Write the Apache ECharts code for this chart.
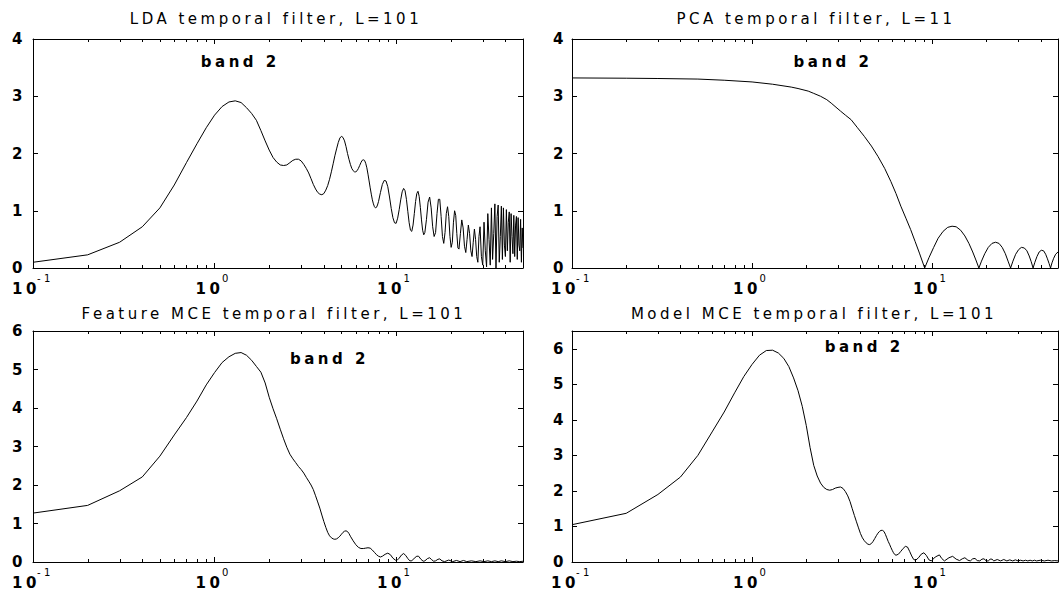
<!DOCTYPE html>
<html>
<head>
<meta charset="utf-8">
<script src="https://cdn.jsdelivr.net/npm/echarts@6/dist/echarts.min.js"></script>
<style>
html,body{margin:0;padding:0;background:#fff;}
#main{width:1061px;height:591px;}
#main text{letter-spacing:3.5px;}
</style>
</head>
<body>
<div id="main"></div>
<script>
// ---------- data ----------
const TITLES = ['LDA temporal filter, L=101', 'PCA temporal filter, L=11',
                'Feature MCE temporal filter, L=101', 'Model MCE temporal filter, L=101'];
const ANNOT_TEXT = 'band 2';
const ANNOT_POS = [[0.84, 3.6], [1.7, 3.6], [2.6, 5.28], [2.53, 6.05]];
const X_MIN = 0.1, X_MAX = 50;
const Y_MAX = [4, 4, 6, 6.5];
const MINOR_TICKS = [0.2,0.3,0.4,0.5,0.6,0.7,0.8,0.9,2,3,4,5,6,7,8,9,20,30,40];

const ldaData = [
[0.1,0.10],[0.2,0.23],[0.3,0.45],[0.4,0.72],[0.5,1.05],[0.6,1.45],[0.7,1.84],[0.8,2.17],[0.9,2.45],[1.0,2.67],
[1.1,2.82],[1.2,2.90],[1.3,2.92],[1.4,2.89],[1.5,2.80],[1.6,2.70],[1.7,2.58],[1.8,2.40],[1.9,2.22],[2.0,2.06],
[2.1,1.93],[2.2,1.85],[2.3,1.80],[2.4,1.79],[2.5,1.80],[2.6,1.84],[2.7,1.88],[2.8,1.90],[2.9,1.90],[3.0,1.87],
[3.1,1.81],[3.2,1.74],[3.3,1.66],[3.4,1.56],[3.5,1.46],[3.6,1.38],[3.7,1.32],[3.8,1.29],[3.9,1.28],[4.0,1.30],
[4.1,1.36],[4.2,1.44],[4.3,1.55],[4.4,1.68],[4.5,1.82],[4.6,1.96],[4.7,2.08],[4.8,2.19],[4.9,2.27],[5.0,2.30],
[5.1,2.28],[5.2,2.22],[5.3,2.12],[5.4,2.00],[5.5,1.90],[5.6,1.81],[5.7,1.74],[5.8,1.70],[5.9,1.68],[6.0,1.68],
[6.1,1.70],[6.2,1.74],[6.3,1.79],[6.4,1.84],[6.5,1.88],[6.6,1.89],[6.7,1.88],[6.8,1.83],[6.9,1.75],[7.0,1.64],
[7.1,1.52],[7.2,1.40],[7.3,1.29],[7.4,1.19],[7.5,1.12],[7.6,1.07],[7.7,1.05],[7.8,1.06],[7.9,1.10],[8.0,1.16],
[8.2,1.32],[8.4,1.46],[8.6,1.53],[8.8,1.52],[9.0,1.42],[9.2,1.24],[9.4,1.04],[9.6,0.88],[9.8,0.79],[10.0,0.78],
[10.2,0.87],[10.4,1.02],[10.6,1.19],[10.8,1.33],[11.0,1.39],[11.2,1.35],[11.4,1.20],[11.6,0.99],[11.8,0.79],
[12.0,0.66],[12.2,0.64],[12.4,0.75],[12.6,0.95],[12.8,1.16],[13.0,1.30],[13.2,1.34],[13.4,1.25],[13.6,1.06],
[13.8,0.84],[14.0,0.66],[14.2,0.58],[14.4,0.62],[14.7,0.85],[15.0,1.15],[15.3,1.24],[15.6,1.05],[15.9,0.72],
[16.2,0.55],[16.5,0.62],[16.8,0.95],[17.1,1.20],[17.4,1.20],[17.7,0.90],[18.0,0.55],[18.3,0.43],[18.6,0.62],
[18.9,0.95],[19.2,1.07],[19.5,0.90],[19.8,0.55],[20.1,0.36],[20.4,0.45],[20.7,0.80],[21.0,1.00],[21.3,0.92],
[21.6,0.60],[21.9,0.35],[22.2,0.33],[22.6,0.60],[23.0,0.84],[23.4,0.70],[23.8,0.38],[24.2,0.27],[24.6,0.50],
[25.0,0.75],[25.4,0.60],[25.8,0.30],[26.2,0.20],[26.6,0.45],[27.0,0.68],[27.4,0.50],[27.8,0.20],[28.2,0.10],
[28.6,0.55],[29.0,0.72],[29.5,0.20],[30.0,0.05],[30.5,0.80],[31.0,0.30],[31.5,0.02],[32.0,0.95],[32.5,0.50],
[33.0,0.05],[33.5,1.05],[34.0,0.15],[34.5,0.60],[35.0,1.12],[35.5,0.00],[36.0,0.90],[36.5,1.10],[37.0,0.10],
[37.5,0.55],[38.0,1.08],[38.5,0.15],[39.0,1.05],[39.5,0.40],[40.0,0.20],[40.5,1.02],[41.0,0.30],[41.5,0.80],
[42.0,0.98],[42.5,0.10],[43.0,0.95],[43.5,0.55],[44.0,0.25],[44.5,0.92],[45.0,0.20],[45.5,0.75],[46.0,0.90],
[46.5,0.15],[47.0,0.88],[47.5,0.40],[48.0,0.30],[48.5,0.85],[49.0,0.10],[49.5,0.70],[50.0,0.35]
];

const pcaData = [
[0.1,3.32],[0.2,3.315],[0.3,3.31],[0.5,3.30],[0.7,3.28],[1.0,3.25],[1.3,3.21],[1.65,3.16],[1.8,3.135],
[2.05,3.09],[2.2,3.05],[2.4,3.00],[2.6,2.94],[2.75,2.88],[3.1,2.74],[3.3,2.67],[3.55,2.59],[3.85,2.45],
[4.2,2.30],[4.6,2.13],[5.0,1.95],[5.45,1.74],[5.9,1.51],[6.3,1.30],[6.7,1.08],[7.15,0.87],[7.6,0.67],
[8.05,0.46],[8.5,0.26],[9.09,0.00],
[9.6,0.18],[10.2,0.36],[10.8,0.52],[11.5,0.64],[12.2,0.71],[12.9,0.73],[13.6,0.72],[14.4,0.66],[15.2,0.56],
[16.0,0.43],[16.8,0.28],[17.5,0.14],[18.18,0.00],
[18.8,0.12],[19.6,0.25],[20.5,0.36],[21.5,0.43],[22.5,0.45],[23.5,0.43],[24.5,0.36],[25.5,0.25],[26.4,0.12],[27.27,0.00],
[28.1,0.12],[29.1,0.24],[30.2,0.32],[31.3,0.36],[32.5,0.35],[33.6,0.30],[34.6,0.21],[35.5,0.11],[36.36,0.00],
[37.2,0.10],[38.2,0.20],[39.3,0.28],[40.4,0.31],[41.6,0.30],[42.7,0.24],[43.7,0.16],[44.6,0.08],[45.45,0.00],
[46.3,0.09],[47.3,0.17],[48.5,0.24],[50.0,0.28]
];

const featureMceData = [
[0.1,1.27],[0.2,1.47],[0.3,1.85],[0.4,2.21],[0.5,2.75],[0.6,3.30],[0.7,3.75],[0.8,4.18],[0.9,4.60],[1.0,4.92],
[1.1,5.18],[1.2,5.33],[1.3,5.42],[1.4,5.44],[1.5,5.37],[1.6,5.24],[1.7,5.08],[1.8,4.93],[1.9,4.65],[2.0,4.28],
[2.1,3.98],[2.2,3.72],[2.3,3.45],[2.4,3.20],[2.5,2.98],[2.6,2.80],[2.7,2.68],[2.8,2.58],[2.9,2.48],[3.0,2.40],
[3.1,2.31],[3.2,2.20],[3.3,2.10],[3.4,2.00],[3.5,1.88],[3.6,1.72],[3.7,1.56],[3.8,1.40],[3.9,1.22],[4.0,1.05],
[4.1,0.90],[4.2,0.77],[4.3,0.68],[4.4,0.63],[4.5,0.60],[4.6,0.59],[4.7,0.60],[4.8,0.63],[4.9,0.67],[5.0,0.72],
[5.1,0.77],[5.2,0.80],[5.3,0.81],[5.4,0.79],[5.5,0.74],[5.6,0.67],[5.8,0.55],[6.0,0.45],[6.2,0.38],[6.4,0.35],
[6.6,0.35],[6.8,0.36],[7.0,0.37],[7.2,0.36],[7.4,0.31],[7.6,0.25],[7.8,0.19],[8.0,0.15],[8.2,0.13],[8.4,0.15],
[8.7,0.20],[9.0,0.23],[9.3,0.19],[9.6,0.10],[9.9,0.05],[10.1,0.04],[10.4,0.10],[10.7,0.18],[11.0,0.22],
[11.3,0.17],[11.6,0.09],[11.9,0.03],[12.2,0.03],[12.6,0.10],[13.0,0.15],[13.3,0.15],[13.7,0.07],[14.1,0.02],
[14.4,0.03],[14.9,0.09],[15.3,0.11],[15.7,0.06],[16.1,0.02],[16.5,0.03],[17.0,0.07],[17.4,0.08],[17.9,0.03],
[18.5,0.01],[19.5,0.05],[20.5,0.01],[21.5,0.04],[22.5,0.01],[23.5,0.04],[24.5,0.01],[26,0.03],[27.5,0.01],
[29,0.03],[30.5,0.01],[32,0.03],[33.5,0.01],[35,0.03],[36.5,0.01],[38,0.03],[40,0.01],[42,0.03],[44,0.01],
[46,0.02],[48,0.01],[50,0.02]
];

const modelMceData = [
[0.1,1.05],[0.2,1.37],[0.3,1.90],[0.4,2.39],[0.5,3.00],[0.6,3.66],[0.7,4.22],[0.8,4.76],[0.9,5.22],[1.0,5.56],
[1.1,5.82],[1.2,5.95],[1.3,5.96],[1.4,5.88],[1.5,5.73],[1.6,5.50],[1.7,5.18],[1.8,4.82],[1.9,4.38],[2.0,3.84],
[2.1,3.22],[2.2,2.72],[2.3,2.42],[2.4,2.22],[2.5,2.10],[2.6,2.04],[2.7,2.02],[2.8,2.04],[2.9,2.08],[3.0,2.10],
[3.1,2.11],[3.2,2.07],[3.3,1.98],[3.4,1.86],[3.5,1.70],[3.6,1.50],[3.7,1.31],[3.8,1.13],[3.9,0.96],[4.0,0.80],
[4.1,0.68],[4.2,0.60],[4.3,0.54],[4.4,0.50],[4.5,0.49],[4.6,0.52],[4.7,0.58],[4.8,0.66],[4.9,0.74],[5.0,0.81],
[5.1,0.86],[5.2,0.89],[5.3,0.89],[5.4,0.86],[5.5,0.78],[5.6,0.68],[5.7,0.58],[5.8,0.50],[5.9,0.41],[6.0,0.33],
[6.1,0.26],[6.2,0.21],[6.3,0.19],[6.5,0.22],[6.7,0.30],[6.9,0.38],[7.1,0.44],[7.3,0.42],[7.5,0.30],[7.7,0.17],
[7.9,0.07],[8.1,0.05],[8.4,0.12],[8.7,0.22],[9.0,0.26],[9.3,0.18],[9.6,0.06],[9.9,0.03],[10.4,0.14],
[10.97,0.20],[11.3,0.10],[11.7,0.03],[12.4,0.12],[13.0,0.16],[13.6,0.08],[14.2,0.04],[14.7,0.09],[15.2,0.12],
[15.8,0.05],[16.3,0.03],[16.8,0.09],[17.3,0.10],[17.8,0.04],[18.4,0.03],[18.9,0.08],[19.4,0.09],[20,0.03],
[20.5,0.03],[21,0.08],[21.5,0.08],[22,0.03],[23,0.07],[24,0.03],[25,0.07],[26,0.03],[27,0.06],[28,0.03],
[29,0.06],[30,0.03],[31,0.05],[32,0.03],[33,0.05],[34,0.03],[35,0.05],[36,0.03],[37,0.05],[38,0.03],
[40,0.05],[42,0.03],[44,0.05],[46,0.03],[48,0.04],[50,0.03]
];

const SERIES_DATA = [ldaData, pcaData, featureMceData, modelMceData];

// ---------- layout / style ----------
const FONT = "'DejaVu Sans', 'Liberation Sans', Arial, sans-serif";
const GRIDS = [
  {left: 33,  top: 39,  width: 490, height: 229},
  {left: 572, top: 39,  width: 490, height: 229},
  {left: 33,  top: 331, width: 490, height: 231},
  {left: 572, top: 331, width: 490, height: 231}
];
const TITLE_POS = [[276, 19], [816, 19], [274, 314], [814, 314]];
const Y_LABEL_MARGIN = [7, 5, 7, 5];
const BLACK = '#000';

const chart = echarts.init(document.getElementById('main'), null, {renderer: 'svg'});

function xLabelFormatter(v) {
  const lg = Math.log10(v);
  const e = Math.round(lg);
  if (Math.abs(lg - e) > 1e-6) return '';
  return '{b|10}{s|' + e + '}';
}

const xAxes = [], yAxes = [], series = [];
GRIDS.forEach((g, i) => {
  const lineStyle = {color: BLACK, width: 1};
  const base = {
    gridIndex: i, type: 'log', logBase: 10, min: X_MIN, max: X_MAX,
    axisLine: {show: true, onZero: false, lineStyle},
    axisTick: {show: true, inside: true, length: 5, lineStyle},
    splitLine: {show: false}, minorTick: {show: false}
  };
  xAxes.push(Object.assign({}, base, {
    position: 'bottom',
    axisLabel: {
      show: true, margin: 5, formatter: xLabelFormatter, color: BLACK,
      rich: {
        b: {fontSize: 15, fontWeight: 'bold', lineHeight: 31, fontFamily: FONT, color: BLACK},
        s: {fontSize: 10, lineHeight: 11, verticalAlign: 'top', padding: [0, 0, 0, 4], fontFamily: FONT, color: BLACK}
      }
    }
  }));
  xAxes.push(Object.assign({}, base, {position: 'top', axisLabel: {show: false}}));
  const yBase = {
    gridIndex: i, type: 'value', min: 0, max: Y_MAX[i], interval: 1,
    axisLine: {show: true, onZero: false, lineStyle},
    axisTick: {show: true, inside: true, length: 5, lineStyle},
    splitLine: {show: false}
  };
  yAxes.push(Object.assign({}, yBase, {
    position: 'left',
    axisLabel: {show: true, margin: Y_LABEL_MARGIN[i], fontSize: 15, fontWeight: 'bold', fontFamily: FONT, color: BLACK,
      formatter: v => (Math.abs(v - Math.round(v)) < 1e-9 ? String(Math.round(v)) : '')}
  }));
  yAxes.push(Object.assign({}, yBase, {position: 'right', axisLabel: {show: false}}));

  const yMax = Y_MAX[i];
  series.push({
    type: 'custom', xAxisIndex: 2 * i, yAxisIndex: 2 * i, silent: true, animation: false,
    data: MINOR_TICKS.map(v => [v, 0]),
    renderItem: (params, api) => {
      const x = api.value(0);
      const pb = api.coord([x, 0]);
      const pt = api.coord([x, yMax]);
      const px = Math.round(pb[0]) + 0.5;
      return {
        type: 'group',
        children: [
          {type: 'line', shape: {x1: px, y1: pb[1], x2: px, y2: pb[1] - 3}, style: {stroke: BLACK, lineWidth: 1}},
          {type: 'line', shape: {x1: px, y1: pt[1], x2: px, y2: pt[1] + 3}, style: {stroke: BLACK, lineWidth: 1}}
        ]
      };
    }
  });
  series.push({
    type: 'line', xAxisIndex: 2 * i, yAxisIndex: 2 * i, data: SERIES_DATA[i],
    symbol: 'none', showSymbol: false, smooth: false, silent: true, animation: false,
    lineStyle: {color: BLACK, width: 1},
    markPoint: {
      symbol: 'circle', symbolSize: 0, silent: true, animation: false,
      itemStyle: {color: 'transparent'},
      label: {show: true, position: 'right', distance: 0, formatter: ANNOT_TEXT,
              color: BLACK, fontSize: 15, fontWeight: 'bold', fontFamily: FONT},
      data: [{coord: ANNOT_POS[i]}]
    }
  });
});

const graphics = TITLES.map((t, i) => ({
  type: 'text', x: TITLE_POS[i][0], y: TITLE_POS[i][1], silent: true,
  style: {text: t, fill: BLACK, font: "15px " + FONT, textAlign: 'center', textVerticalAlign: 'middle'}
}));

chart.setOption({
  backgroundColor: '#fff',
  animation: false,
  grid: GRIDS.map(g => Object.assign({containLabel: false}, g)),
  xAxis: xAxes,
  yAxis: yAxes,
  series: series,
  graphic: graphics
});
</script>
</body>
</html>
